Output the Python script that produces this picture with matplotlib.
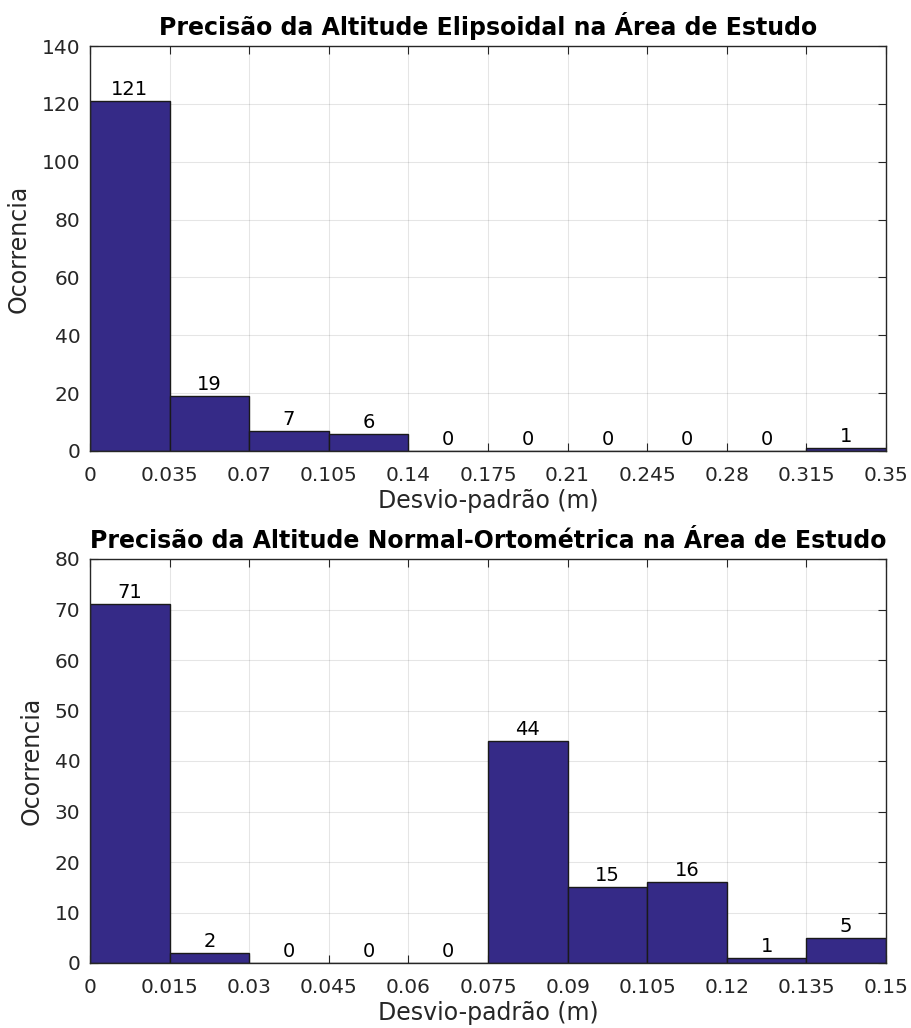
import numpy as np
import matplotlib
matplotlib.use("Agg")
import matplotlib.pyplot as plt

# Histogram data: bin edges (m) and counts per bin
elip_edges = [0, 0.035, 0.07, 0.105, 0.14, 0.175, 0.21, 0.245, 0.28, 0.315, 0.35]
elip_counts = [121, 19, 7, 6, 0, 0, 0, 0, 0, 1]
elip_xticklabels = ["0", "0.035", "0.07", "0.105", "0.14", "0.175", "0.21", "0.245", "0.28", "0.315", "0.35"]

orto_edges = [0, 0.015, 0.03, 0.045, 0.06, 0.075, 0.09, 0.105, 0.12, 0.135, 0.15]
orto_counts = [71, 2, 0, 0, 0, 44, 15, 16, 1, 5]
orto_xticklabels = ["0", "0.015", "0.03", "0.045", "0.06", "0.075", "0.09", "0.105", "0.12", "0.135", "0.15"]

titles = ["Precisão da Altitude Elipsoidal na Área de Estudo",
          "Precisão da Altitude Normal-Ortométrica na Área de Estudo"]
xlabel = "Desvio-padrão (m)"
ylabel = "Ocorrencia"

BAR_COLOR = "#352a87"
AX_COLOR = "#262626"

plt.rcParams["font.family"] = ["DejaVu Sans"]

fig = plt.figure(figsize=(9.11, 10.28), dpi=100)
W, H = 911, 1028
ax1 = fig.add_axes([90 / W, 1 - 451 / H, 796 / W, 405 / H])
ax2 = fig.add_axes([90 / W, 1 - 963 / H, 796 / W, 404 / H])


def draw_hist(ax, edges, counts, ticklabels, ymax, ystep, title):
    edges = np.asarray(edges)
    widths = np.diff(edges)
    bars = ax.bar(edges[:-1], counts, width=widths, align="edge",
                  color=BAR_COLOR, edgecolor="#1a1a1a", linewidth=1.0, zorder=3)
    for rect, c in zip(bars, counts):
        ax.annotate(str(c), (rect.get_x() + rect.get_width() / 2, c),
                    xytext=(0, 1.5), textcoords="offset points",
                    ha="center", va="bottom", fontsize=14, color="black", zorder=4)
    ax.set_xlim(edges[0], edges[-1])
    ax.set_ylim(0, ymax)
    ax.set_xticks(edges)
    ax.set_xticklabels(ticklabels)
    ax.set_yticks(np.arange(0, ymax + ystep / 2, ystep))
    ax.grid(True, color="#000000", alpha=0.10, linewidth=0.8, zorder=0)
    ax.set_axisbelow(True)
    ax.tick_params(direction="in", top=True, right=True, length=6, width=0.8,
                   labelsize=14.5, colors=AX_COLOR)
    ax.tick_params(axis="x", pad=11)
    ax.tick_params(axis="y", pad=7)
    for s in ax.spines.values():
        s.set_color(AX_COLOR)
        s.set_linewidth(1.0)
        s.set_zorder(5)
    ax.set_xlabel(xlabel, fontsize=17, color=AX_COLOR, labelpad=3)
    ax.set_ylabel(ylabel, fontsize=17, color=AX_COLOR, labelpad=8)
    ax.set_title(title, fontsize=17, fontweight="bold", color="black", pad=8)


draw_hist(ax1, elip_edges, elip_counts, elip_xticklabels, 140, 20, titles[0])
draw_hist(ax2, orto_edges, orto_counts, orto_xticklabels, 80, 10, titles[1])

fig.savefig("out.png", dpi=100)
